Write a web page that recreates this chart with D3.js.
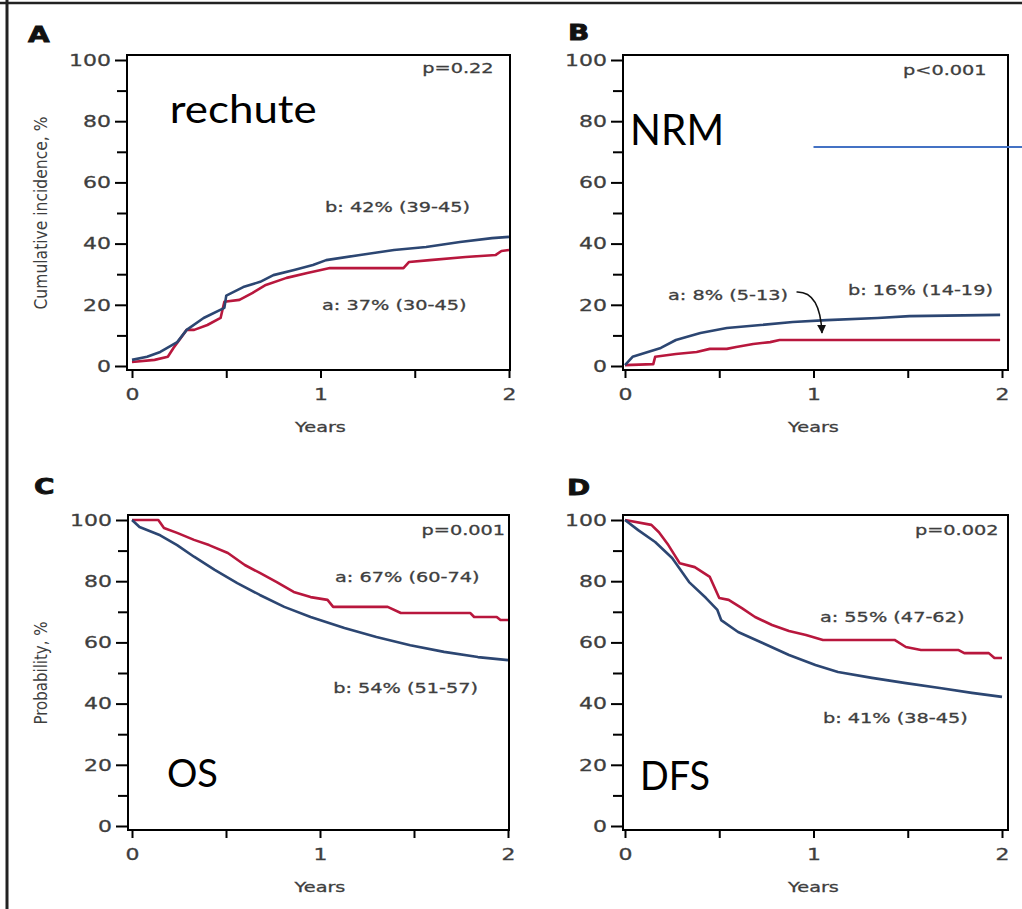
<!DOCTYPE html>
<html>
<head>
<meta charset="utf-8">
<script src="https://cdn.jsdelivr.net/npm/d3@7"></script>
<style>
body { margin: 0; background: #fff; }
svg { display: block; }
</style>
</head>
<body>
<div id="chart"></div>
<script>
// ---- data (years, %) ----
var xMajor = [0, 1, 2]
var xMinor = [0.5, 1.5]
var yMajor = [0, 20, 40, 60, 80, 100]
var yMinor = [10, 30, 50, 70, 90]

var letters = ["A", "B", "C", "D"]
var titles = ["rechute", "NRM", "OS", "DFS"]
var pValues = ["p=0.22", "p<0.001", "p=0.001", "p=0.002"]
var yTitles = ["Cumulative incidence, %", "", "Probability, %", ""]
var labelsA = ["a: 37% (30-45)", "a: 8% (5-13)", "a: 67% (60-74)", "a: 55% (47-62)"]
var labelsB = ["b: 42% (39-45)", "b: 16% (14-19)", "b: 54% (51-57)", "b: 41% (38-45)"]

// A - relapse
var relapseA = [[0,1.3],[0.12,2],[0.19,3],[0.22,5.9],[0.29,11.8],[0.33,11.8],[0.40,13.4],[0.47,15.7],[0.49,21],[0.57,21.6],[0.64,23.9],[0.71,26.5],[0.82,28.8],[0.93,30.4],[1.05,32],[1.44,32],[1.47,34],[1.58,34.6],[1.77,35.6],[1.93,36.3],[1.96,37.6],[2.0,37.9]]
var relapseB = [[0,2],[0.08,3],[0.15,4.6],[0.24,7.8],[0.29,11.8],[0.38,15.7],[0.49,19],[0.5,23],[0.59,25.8],[0.68,27.5],[0.75,29.7],[0.86,31.4],[0.96,33],[1.03,34.6],[1.21,36.3],[1.39,37.9],[1.56,38.9],[1.74,40.5],[1.91,41.8],[2.0,42.2]]
// B - NRM
var nrmA = [[0,0.3],[0.15,0.6],[0.16,3],[0.27,3.9],[0.38,4.6],[0.45,5.6],[0.54,5.6],[0.59,6.2],[0.68,7.2],[0.77,7.8],[0.82,8.5],[1.99,8.5]]
var nrmB = [[0,0.3],[0.04,3],[0.19,5.9],[0.27,8.5],[0.40,10.8],[0.54,12.4],[0.72,13.4],[0.89,14.4],[1.07,15],[1.34,15.7],[1.51,16.3],[1.99,16.7]]
// C - OS
var osA = [[0,100],[0.14,100],[0.17,97.4],[0.24,95.8],[0.33,93.5],[0.41,91.8],[0.51,89.2],[0.60,85.3],[0.68,82.7],[0.77,79.7],[0.86,76.5],[0.95,74.8],[1.04,73.9],[1.07,71.6],[1.36,71.6],[1.43,69.6],[1.80,69.6],[1.82,68.3],[1.94,68.3],[1.96,67.3],[2.0,67.3]]
var osB = [[0,100],[0.04,97.7],[0.15,95],[0.24,91.8],[0.33,88],[0.44,83.7],[0.56,79.4],[0.68,75.5],[0.81,71.6],[0.95,68.3],[1.13,64.7],[1.30,61.8],[1.48,59.1],[1.66,56.9],[1.84,55.2],[2.0,54.2]]
// D - DFS
var dfsA = [[0,100],[0.14,98.4],[0.18,96],[0.23,91.8],[0.29,85.9],[0.37,84.6],[0.45,81.4],[0.50,74.5],[0.55,73.9],[0.62,71.2],[0.69,68.3],[0.78,65.7],[0.87,63.7],[0.96,62.4],[1.05,60.8],[1.43,60.8],[1.49,58.5],[1.57,57.5],[1.77,57.5],[1.80,56.5],[1.93,56.5],[1.96,54.9],[2.0,54.9]]
var dfsB = [[0,100],[0.07,96.7],[0.16,92.8],[0.25,87.6],[0.34,79.7],[0.43,74.5],[0.49,70.6],[0.51,67.3],[0.60,63.4],[0.73,59.8],[0.87,55.9],[1.01,52.6],[1.13,50.3],[1.31,48.4],[1.49,46.7],[1.67,45.1],[1.84,43.5],[2.0,42.2]]

var seriesA = [relapseA, nrmA, osA, dfsA]
var seriesB = [relapseB, nrmB, osB, dfsB]

var red = "#b8173d", blue = "#2c4672", grey = "#3e3e3e"
var sx = 1.33  // the source image is stretched sideways

// layout of each panel (pixels) + where the texts sit (data units)
var layout = [
  {xr: [132, 509], yr: [366, 60], f: {l: 127, t: 55, r: 510, b: 370}, letter: [28, 42],
   p: [1.54, 95.8], la: [1.008, 18.3], lb: [1.024, 50.3], title: [0.2, 79.4, 38, 147]},
  {xr: [625, 1002], yr: [366, 60], f: {l: 623, t: 55, r: 1008, b: 370}, letter: [568, 40],
   p: [1.475, 95.1], la: [0.228, 21.6], lb: [1.183, 23.2], title: [0.027, 72.2, 42, 94]},
  {xr: [132, 508], yr: [826, 520], f: {l: 128, t: 515, r: 509, b: 830}, letter: [34, 494],
   p: [1.54, 95.1], la: [1.08, 79.7], lb: [1.07, 43.5], title: [0.186, 12.7, 38, 51]},
  {xr: [625, 1002], yr: [826, 520], f: {l: 623, t: 515, r: 1008, b: 830}, letter: [567, 495],
   p: [1.538, 95.1], la: [1.034, 66.7], lb: [1.05, 33.7], title: [0.08, 11.8, 40, 70]}
]

var width = 1022, height = 909
var svg = d3.select("#chart").append("svg").attr("width", width).attr("height", height)

svg.append("defs").append("marker")
  .attr("id", "arrow").attr("viewBox", "0 0 10 10")
  .attr("refX", 9).attr("refY", 5)
  .attr("markerWidth", 9).attr("markerHeight", 9)
  .attr("markerUnits", "userSpaceOnUse")
  .attr("orient", "auto")
  .append("path").attr("d", "M0,0 L10,5 L0,10 z").attr("fill", "#111")

// border of the scanned figure (top and left only)
svg.append("line").attr("x1", 0).attr("x2", width).attr("y1", 3).attr("y2", 3)
  .attr("stroke", "#222").attr("stroke-width", 2.5)
svg.append("line").attr("x1", 7).attr("x2", 7).attr("y1", 0).attr("y2", height)
  .attr("stroke", "#222").attr("stroke-width", 3)

function stretch(sel, k) {
  sel.each(function() {
    var w = this.getComputedTextLength()
    d3.select(this).attr("textLength", w * k).attr("lengthAdjust", "spacingAndGlyphs")
  })
}

var sansFont = "'DejaVu Sans', Verdana, sans-serif"

layout.forEach(function(L, i) {
  var x = d3.scaleLinear().domain([0, 2]).range(L.xr)
  var y = d3.scaleLinear().domain([0, 100]).range(L.yr)
  var g = svg.append("g")

  // axes
  function styleAxis(ax) {
    ax.select(".domain").remove()
    ax.selectAll("line").attr("stroke", "#000").attr("stroke-width", 2)
    ax.selectAll("text").attr("fill", grey).attr("font-family", sansFont).attr("font-size", 16.5)
      .attr("stroke", grey).attr("stroke-width", 0.3)
    ax.attr("font-size", null).attr("font-family", null)
  }
  var yMaj = g.append("g").attr("transform", "translate(" + L.f.l + ",0)")
    .call(d3.axisLeft(y).tickValues(yMajor).tickSize(12).tickPadding(4))
  styleAxis(yMaj)
  var yMin = g.append("g").attr("transform", "translate(" + L.f.l + ",0)")
    .call(d3.axisLeft(y).tickValues(yMinor).tickSize(10).tickFormat(""))
  styleAxis(yMin)
  var xMaj = g.append("g").attr("transform", "translate(0," + L.f.b + ")")
    .call(d3.axisBottom(x).tickValues(xMajor).tickSize(8).tickPadding(10).tickFormat(d3.format("d")))
  styleAxis(xMaj)
  var xMin = g.append("g").attr("transform", "translate(0," + L.f.b + ")")
    .call(d3.axisBottom(x).tickValues(xMinor).tickSize(8).tickFormat(""))
  styleAxis(xMin)
  stretch(yMaj.selectAll("text"), sx)
  stretch(xMaj.selectAll("text"), sx)

  // frame
  g.append("rect").attr("x", L.f.l).attr("y", L.f.t)
    .attr("width", L.f.r - L.f.l).attr("height", L.f.b - L.f.t)
    .attr("fill", "none").attr("stroke", "#000").attr("stroke-width", 2)

  // curves
  var line = d3.line().x(d => x(d[0])).y(d => y(d[1]))
  g.append("path").datum(seriesA[i]).attr("d", line)
    .attr("fill", "none").attr("stroke", red).attr("stroke-width", 2.6).attr("stroke-linejoin", "round")
  g.append("path").datum(seriesB[i]).attr("d", line)
    .attr("fill", "none").attr("stroke", blue).attr("stroke-width", 2.6).attr("stroke-linejoin", "round")

  // texts
  var txt = g.append("g").attr("font-family", sansFont).attr("fill", grey)
    .attr("stroke", grey).attr("stroke-width", 0.3)
  var pT = txt.append("text").attr("x", x(L.p[0])).attr("y", y(L.p[1])).attr("font-size", 14.5).text(pValues[i])
  var aT = txt.append("text").attr("x", x(L.la[0])).attr("y", y(L.la[1])).attr("font-size", 14.5).text(labelsA[i])
  var bT = txt.append("text").attr("x", x(L.lb[0])).attr("y", y(L.lb[1])).attr("font-size", 14.5).text(labelsB[i])
  var yrs = txt.append("text").attr("x", (L.xr[0] + L.xr[1]) / 2).attr("y", L.f.b + 62)
    .attr("text-anchor", "middle").attr("font-size", 14.5).text("Years")
  stretch(d3.selectAll([pT.node(), aT.node(), bT.node(), yrs.node()]), sx)

  if (yTitles[i]) {
    var tl = i == 0 ? 193 : 103
    g.append("text")
      .attr("transform", "translate(47," + (L.yr[0] + L.yr[1]) / 2 + ") rotate(-90)")
      .attr("text-anchor", "middle")
      .attr("font-family", "'Liberation Sans Narrow', 'DejaVu Sans Condensed', sans-serif")
      .attr("font-size", 18).attr("fill", grey)
      .attr("textLength", tl).attr("lengthAdjust", "spacingAndGlyphs")
      .text(yTitles[i])
  }

  // panel letter
  var lt = g.append("text").attr("x", L.letter[0]).attr("y", L.letter[1])
    .attr("font-family", "'DejaVu Sans', sans-serif").attr("font-weight", "bold")
    .attr("font-size", 21).attr("fill", "#111").attr("stroke", "#111").attr("stroke-width", 0.8)
    .text(letters[i])
  stretch(lt, sx)

  // overlaid big title
  g.append("text").attr("x", x(L.title[0])).attr("y", y(L.title[1]))
    .attr("font-family", "Lato, 'Open Sans', sans-serif").attr("font-size", L.title[2])
    .attr("fill", "#000").attr("textLength", L.title[3]).attr("lengthAdjust", "spacingAndGlyphs")
    .text(titles[i])

  if (i == 1) {
    // arrow from the "a" label down to the red curve
    g.append("path")
      .attr("d", "M" + x(0.91) + "," + y(24.2) + " Q" + x(1.035) + "," + y(24.5) + " " + x(1.045) + "," + y(10.8))
      .attr("fill", "none").attr("stroke", "#111").attr("stroke-width", 1.5)
      .attr("marker-end", "url(#arrow)")
    // blue drawing line added on the slide
    g.append("line").attr("x1", x(1)).attr("x2", x(2.11))
      .attr("y1", y(71.6)).attr("y2", y(71.6))
      .attr("stroke", "#4472c4").attr("stroke-width", 2)
  }
})
</script>
</body>
</html>
